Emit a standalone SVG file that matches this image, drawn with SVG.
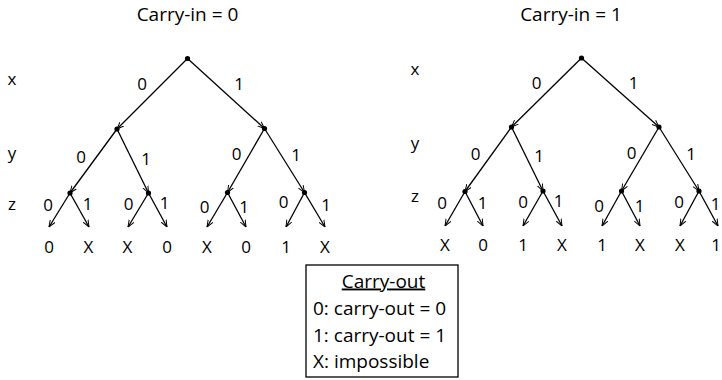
<svg xmlns="http://www.w3.org/2000/svg" width="722" height="380" viewBox="0 0 722 380">
<style>
text{font-family:"Open Sans","Liberation Sans",sans-serif;fill:#000}
.t{font-size:19px;text-anchor:middle}
.l{font-size:17px;text-anchor:middle}
.r{font-size:17px;text-anchor:middle}
.g{font-size:19px}
.e{stroke:#000;stroke-width:1.3;fill:none;marker-end:url(#ah)}
.d{fill:#000}
</style>
<defs>
<marker id="ah" viewBox="0 0 10 10" refX="10" refY="5" markerWidth="7" markerHeight="7" markerUnits="userSpaceOnUse" orient="auto">
<path d="M0,1 L10,5 L0,9" fill="none" stroke="#000" stroke-width="1.4"/>
</marker>
</defs>
<rect width="722" height="380" fill="#fff"/>

<g id="titles">
<text class="t" x="187.5" y="20.5">Carry-in = 0</text>
<text class="t" x="571" y="20.5">Carry-in = 1</text>
</g>

<g id="rowlabels">
<text class="r" x="12" y="85">x</text>
<text class="r" x="12" y="159">y</text>
<text class="r" x="12" y="210">z</text>
<text class="r" x="415" y="75">x</text>
<text class="r" x="415" y="149">y</text>
<text class="r" x="415" y="202">z</text>
</g>

<g id="connectors">
<line class="e" x1="187.5" y1="58.5" x2="117" y2="129"/>
<line class="e" x1="187.5" y1="58.5" x2="264.5" y2="128.5"/>
<line class="e" x1="117" y1="129" x2="70" y2="193"/>
<line class="e" x1="117" y1="129" x2="148.5" y2="193"/>
<line class="e" x1="264.5" y1="128.5" x2="227.5" y2="192.5"/>
<line class="e" x1="264.5" y1="128.5" x2="304.5" y2="192.5"/>
<line class="e" x1="70" y1="193" x2="49" y2="227"/>
<line class="e" x1="70" y1="193" x2="89" y2="227"/>
<line class="e" x1="148.5" y1="193" x2="128" y2="227"/>
<line class="e" x1="148.5" y1="193" x2="167" y2="227"/>
<line class="e" x1="227.5" y1="192.5" x2="207" y2="227"/>
<line class="e" x1="227.5" y1="192.5" x2="246" y2="227"/>
<line class="e" x1="304.5" y1="192.5" x2="286" y2="227"/>
<line class="e" x1="304.5" y1="192.5" x2="325" y2="227"/>
<line class="e" x1="581.5" y1="58" x2="511.5" y2="127"/>
<line class="e" x1="581.5" y1="58" x2="659" y2="127"/>
<line class="e" x1="511.5" y1="127" x2="465" y2="191.5"/>
<line class="e" x1="511.5" y1="127" x2="543" y2="191"/>
<line class="e" x1="659" y1="127" x2="621.5" y2="191"/>
<line class="e" x1="659" y1="127" x2="699" y2="191"/>
<line class="e" x1="465" y1="191.5" x2="445" y2="226"/>
<line class="e" x1="465" y1="191.5" x2="483" y2="226"/>
<line class="e" x1="543" y1="191" x2="523" y2="226"/>
<line class="e" x1="543" y1="191" x2="562" y2="226"/>
<line class="e" x1="621.5" y1="191" x2="602" y2="226"/>
<line class="e" x1="621.5" y1="191" x2="640" y2="226"/>
<line class="e" x1="699" y1="191" x2="680" y2="226"/>
<line class="e" x1="699" y1="191" x2="718" y2="226"/>
</g>

<g id="edgelabels">
<text class="l" x="142" y="90">0</text>
<text class="l" x="239" y="90">1</text>
<text class="l" x="81" y="162.5">0</text>
<text class="l" x="146" y="165">1</text>
<text class="l" x="236.5" y="160">0</text>
<text class="l" x="296" y="160.5">1</text>
<text class="l" x="48" y="210.5">0</text>
<text class="l" x="87.5" y="210">1</text>
<text class="l" x="128.5" y="210">0</text>
<text class="l" x="164.5" y="208.5">1</text>
<text class="l" x="204.5" y="213">0</text>
<text class="l" x="244" y="212.5">1</text>
<text class="l" x="283.5" y="208">0</text>
<text class="l" x="326" y="210.5">1</text>

<text class="l" x="536.5" y="88.5">0</text>
<text class="l" x="633.5" y="88.5">1</text>
<text class="l" x="475.5" y="160">0</text>
<text class="l" x="539" y="161.5">1</text>
<text class="l" x="631.5" y="158.5">0</text>
<text class="l" x="691" y="159.5">1</text>
<text class="l" x="442" y="208.5">0</text>
<text class="l" x="482.5" y="208.5">1</text>
<text class="l" x="523" y="207.5">0</text>
<text class="l" x="558.5" y="206.5">1</text>
<text class="l" x="599" y="211.5">0</text>
<text class="l" x="639.5" y="211.5">1</text>
<text class="l" x="679" y="207.5">0</text>
<text class="l" x="715.5" y="210">1</text>
</g>

<g id="nodes">
<circle class="d" cx="187.5" cy="58.5" r="2.6"/>
<circle class="d" cx="117" cy="129" r="2.6"/>
<circle class="d" cx="264.5" cy="128.5" r="2.6"/>
<circle class="d" cx="70" cy="193" r="2.6"/>
<circle class="d" cx="148.5" cy="193" r="2.6"/>
<circle class="d" cx="227.5" cy="192.5" r="2.6"/>
<circle class="d" cx="304.5" cy="192.5" r="2.6"/>
<circle class="d" cx="581.5" cy="58" r="2.6"/>
<circle class="d" cx="511.5" cy="127" r="2.6"/>
<circle class="d" cx="659" cy="127" r="2.6"/>
<circle class="d" cx="465" cy="191.5" r="2.6"/>
<circle class="d" cx="543" cy="191" r="2.6"/>
<circle class="d" cx="621.5" cy="191" r="2.6"/>
<circle class="d" cx="699" cy="191" r="2.6"/>
</g>

<g id="leaves">
<text class="l" x="49" y="252.5">0</text>
<text class="l" x="88.5" y="252.5">X</text>
<text class="l" x="127.5" y="252.5">X</text>
<text class="l" x="167" y="252.5">0</text>
<text class="l" x="207" y="252.5">X</text>
<text class="l" x="246" y="252.5">0</text>
<text class="l" x="286" y="252.5">1</text>
<text class="l" x="325" y="252.5">X</text>

<text class="l" x="445" y="251">X</text>
<text class="l" x="483" y="251">0</text>
<text class="l" x="523" y="251">1</text>
<text class="l" x="562" y="251">X</text>
<text class="l" x="602" y="251">1</text>
<text class="l" x="640" y="251">X</text>
<text class="l" x="680" y="251">X</text>
<text class="l" x="716" y="251">1</text>
</g>

<g id="legend">
<rect x="306" y="265" width="152" height="112" fill="#fff" stroke="#000" stroke-width="1.3"/>
<text class="g" x="383.5" y="287.5" text-anchor="middle" text-decoration="underline">Carry-out</text>
<text class="g" x="313" y="315">0: carry-out = 0</text>
<text class="g" x="313" y="341.5">1: carry-out = 1</text>
<text class="g" x="313" y="367.5">X: impossible</text>
</g>
</svg>
